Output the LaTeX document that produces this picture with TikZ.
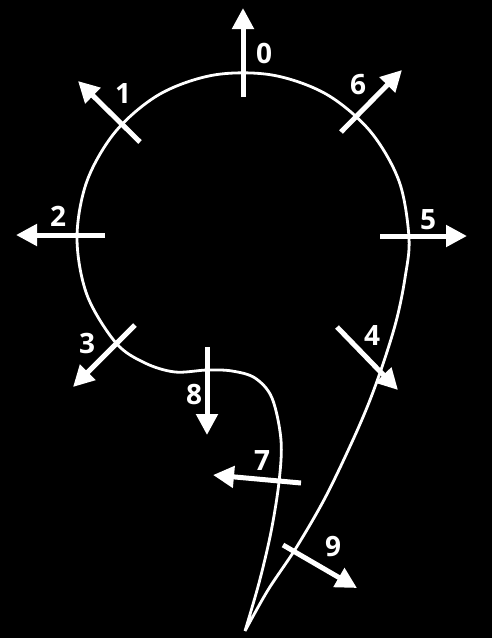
\documentclass[tikz,border=0pt]{standalone}
\usepackage{fontspec}
\setmainfont{Open Sans}
\usetikzlibrary{arrows.meta}
\begin{document}
\begin{tikzpicture}[
  x=1pt, y=-1pt,
  curve/.style={draw=white, line width=2.8pt, line join=round},
  vec/.style={draw=white, line width=5pt, -{Triangle[length=21pt, width=21pt]}},
  num/.style={text=white, font=\fontsize{28}{28}\selectfont\bfseries, inner sep=0pt}
]
  \fill[black] (0,0) rectangle (492,638);
  \useasboundingbox (0,0) rectangle (492,638);

  % the curve, from the tip up the right side, round the loop and back down
  \draw[curve] plot[smooth, tension=0.55] coordinates {
    (245,631) (268,590) (296,548) (325,498) (352,442) (370,400) (385,358)
    (397,318) (405,278) (409,238) (399,181) (370,131) (326,94) (272,75)
    (214,75) (160,94) (116,131) (87,181) (77,238) (87,295)
    (116,343) (145,363) (175,372) (207,370) (232,371) (255,378)
    (272,398) (281,440) (279,482) (271,532) (259,583) (245,631)};

  % vectors
  \draw[vec] (243,97) -- (243,8);
  \draw[vec] (140,142) -- (78,81);
  \draw[vec] (105,235) -- (16,235);
  \draw[vec] (135,325) -- (73,387);
  \draw[vec] (337,327) -- (398,390);
  \draw[vec] (380,236) -- (467,236);
  \draw[vec] (341,132) -- (402,70);
  \draw[vec] (301,483) -- (213,475);
  \draw[vec] (207,347) -- (207,435);
  \draw[vec] (283,545) -- (357,588);

  % labels
  \node[num] (n0) at (264,53) {0};
  \node[num] (n1) at (123,94) {1};
  \node[num] (n2) at (58,216) {2};
  \node[num] (n3) at (87,343) {3};
  \node[num] (n4) at (372,335) {4};
  \node[num] (n5) at (428,220) {5};
  \node[num] (n6) at (358,85) {6};
  \node[num] (n7) at (262,461) {7};
  \node[num] (n8) at (194,395) {8};
  \node[num] (n9) at (333,547) {9};
\end{tikzpicture}
\end{document}
